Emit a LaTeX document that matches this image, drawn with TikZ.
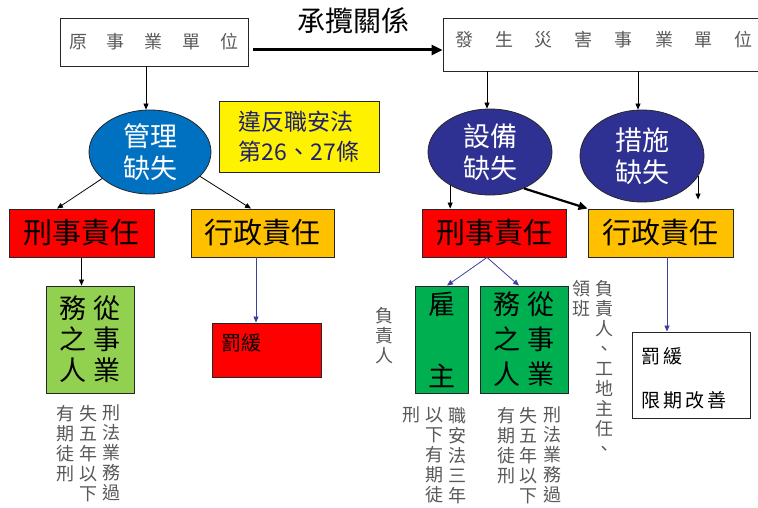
\documentclass[tikz,border=0pt]{standalone}
\usepackage{fontspec}
\setmainfont{Noto Sans CJK TC}
\newfontfamily\vfont[RawFeature=+vert]{Noto Sans CJK TC}
\usetikzlibrary{arrows.meta,shapes.geometric}
\definecolor{gy}{HTML}{595959}
\definecolor{blu}{HTML}{3F3FA0}
\definecolor{ell1}{HTML}{0070C0}
\definecolor{ell2}{HTML}{2E3192}
\definecolor{org}{HTML}{FFC000}
\definecolor{grn1}{HTML}{92D050}
\definecolor{grn2}{HTML}{00B050}
\definecolor{navy}{HTML}{202070}
\begin{document}
\begin{tikzpicture}[x=1pt,y=-1pt,
  box/.style={rectangle,draw=black!85,line width=0.9pt,inner sep=0pt},
  ell/.style={ellipse,draw=black!85,line width=0.8pt,inner sep=0pt,text=white,align=center,font=\fontsize{27}{32}\selectfont},
  resp/.style={box,font=\fontsize{29}{34}\selectfont},
  vtext/.style={text=gy,align=center,inner sep=0pt,anchor=north,font=\vfont\fontsize{18}{20}\selectfont},
  toptext/.style={text=gy,inner sep=0pt,font=\fontsize{18}{20}\selectfont},
  arr/.style={-{Triangle[length=6pt,width=5pt]},line width=0.8pt,black},
  barr/.style={-{Triangle[length=6pt,width=5pt]},line width=0.8pt,blu},
  thick arr/.style={-{Triangle[length=11pt,width=10pt]},line width=3pt,black}]
\useasboundingbox[fill=white] (0,0) rectangle (758,508);

% top boxes
\node[box,minimum width=188pt,minimum height=48pt,toptext,draw=black!85] (yuan) at (154,42)
  {原\hspace{20pt}事\hspace{20pt}業\hspace{20pt}單\hspace{20pt}位};
\node[box,minimum width=327pt,minimum height=53pt] (fasheng) at (606.5,44.5) {};
\node[toptext] (fashengtxt) at (604,40)
  {發\hspace{22pt}生\hspace{22pt}災\hspace{22pt}害\hspace{22pt}事\hspace{22pt}業\hspace{22pt}單\hspace{22pt}位};
\node[inner sep=0pt,font=\fontsize{28}{32}\selectfont] (title) at (353,21) {承攬關係};

% ellipses
\node[ell,fill=ell1,minimum width=122pt,minimum height=84pt] (guanli) at (150,152) {管理\\缺失};
\node[ell,fill=ell2,minimum width=124pt,minimum height=86pt] (shebei) at (490,152) {設備\\缺失};
\node[ell,fill=ell2,minimum width=124pt,minimum height=92pt] (cuoshi) at (642,156) {措施\\缺失};

% yellow note
\node[box,fill=yellow,minimum width=160pt,minimum height=71pt,align=left,text=navy,
  font=\fontsize{23}{30}\selectfont] (law) at (299,136.5) {違反職安法\\第26、27條};

% responsibility boxes
\node[resp,fill=red,minimum width=145pt,minimum height=48pt] (redL) at (81.5,233) {刑事責任};
\node[resp,fill=org,minimum width=143pt,minimum height=48pt] (orgL) at (262.5,233) {行政責任};
\node[resp,fill=red,minimum width=144pt,minimum height=48pt] (redR) at (494,233) {刑事責任};
\node[resp,fill=org,minimum width=145pt,minimum height=48pt] (orgR) at (660.5,233) {行政責任};

% green boxes
\node[box,fill=grn1,minimum width=88pt,minimum height=107pt,align=center,
  font=\fontsize{27}{31}\selectfont] (greenL) at (90,339.5)
  {務\hspace{7pt}從\\之\hspace{7pt}事\\人\hspace{7pt}業};
\node[box,fill=grn2,minimum width=53pt,minimum height=107pt,align=center,
  font=\fontsize{27}{72}\selectfont] (guzhu) at (441.5,339.5) {雇\\主};
\node[box,fill=grn2,minimum width=88pt,minimum height=107pt,align=center,
  font=\fontsize{27}{35}\selectfont] (greenR) at (524,339.5)
  {務\hspace{8pt}從\\之\hspace{8pt}事\\人\hspace{8pt}業};

% penalty boxes
\node[box,fill=red,minimum width=109pt,minimum height=54pt] (fakuan) at (266.5,350) {};
\node[inner sep=0pt,anchor=west,font=\fontsize{20}{24}\selectfont] (fakuantxt) at (221,343) {罰緩};
\node[box,fill=white,minimum width=118pt,minimum height=86pt] (white) at (691,375) {};
\node[inner sep=0pt,anchor=west,align=left,font=\fontsize{19}{44}\selectfont] (whitetxt) at (641,378)
  {罰\hspace{3pt}緩\\限\hspace{3pt}期\hspace{3pt}改\hspace{3pt}善};

% vertical texts
\node[vtext] (l1) at (111,405) {刑\\法\\業\\務\\過};
\node[vtext] (l2) at (88,405) {失\\五\\年\\以\\下};
\node[vtext] (l3) at (65,405) {有\\期\\徒\\刑};
\node[vtext] (r1) at (457.5,407) {職\\安\\法\\三\\年};
\node[vtext] (r2) at (434,407) {以\\下\\有\\期\\徒};
\node[vtext] (r3) at (411,407) {刑};
\node[vtext] (r4) at (552.5,407) {刑\\法\\業\\務\\過};
\node[vtext] (r5) at (528.5,407) {失\\五\\年\\以\\下};
\node[vtext] (r6) at (506,407) {有\\期\\徒\\刑};
\node[vtext] (fzr) at (384,307) {負\\責\\人};
\node[vtext] (lb) at (581.5,280) {領\\班};
\node[vtext] (fzr2) at (604,280) {負\\責\\人\\、\\工\\地\\主\\任\\、};

% connectors
\draw[thick arr,shorten <=5pt] ([yshift=-8pt]yuan.east) -- ([yshift=-5.5pt]fasheng.west);
\draw[arr] ([xshift=-8pt]yuan.south) -- ([xshift=-4pt]guanli.north);
\draw[arr] (guanli.209) -- ([xshift=-24.5pt]redL.north);
\draw[arr] (guanli.334) -- ([xshift=-11.5pt]orgL.north);
\draw[arr] (redL.south) -- (redL.south |- greenL.north);
\draw[barr] ([xshift=-6.5pt]orgL.south) -- ([xshift=-6.5pt]orgL.south |- fakuan.north);

\draw[arr] ([xshift=-3pt]shebei.north |- fasheng.south) -- ([xshift=-3pt]shebei.north);
\draw[arr] ([xshift=-4pt]cuoshi.north |- fasheng.south) -- ([xshift=-4pt]cuoshi.north);
\draw[arr] (shebei.220) -- (shebei.220 |- redR.north);
\draw[-{Triangle[length=9pt,width=8pt]},line width=2.2pt] (shebei.313) -- (orgR.north west);
\draw[arr] (cuoshi.340) -- ([yshift=9pt]cuoshi.340 |- orgR.north);
\draw[barr] ([xshift=-7pt]redR.south) -- ([xshift=5.5pt]guzhu.north);
\draw[barr] ([xshift=-7pt]redR.south) -- ([xshift=-5pt]greenR.north);
\draw[barr] ([xshift=6.5pt]orgR.south) -- ([xshift=6.5pt]orgR.south |- white.north);
\end{tikzpicture}
\end{document}
